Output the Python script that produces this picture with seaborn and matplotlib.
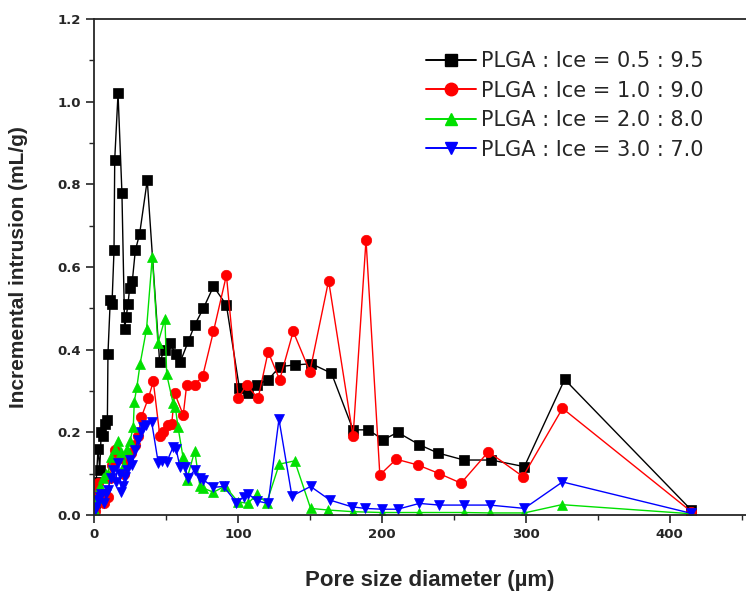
import numpy as np
import pandas as pd
import matplotlib
matplotlib.use("Agg")
import matplotlib.pyplot as plt
import seaborn as sns
from matplotlib.ticker import MultipleLocator
from matplotlib.lines import Line2D

# pore size (um) and incremental intrusion (mL/g)
x_05 = [0.5, 1.5, 2.8, 4, 5, 6.3, 7.5, 9.3, 9.7, 11.3, 12.5, 13.9, 14.4, 16.7, 19.4,
        21.3, 22.4, 23.6, 24.8, 26.6, 28.7, 31.7, 37, 45.6, 49, 52.5, 57, 60, 65.5,
        70, 76, 83, 92, 101, 107, 113, 121, 129, 139.6, 151, 165, 180, 190.5, 201,
        211, 226, 239, 257, 276, 299, 327, 415]
y_05 = [0.03, 0.08, 0.16, 0.11, 0.2, 0.19, 0.22, 0.23, 0.39, 0.52, 0.51, 0.64, 0.86, 1.02, 0.78,
        0.45, 0.48, 0.51, 0.55, 0.565, 0.64, 0.68, 0.81, 0.37, 0.4, 0.415, 0.39, 0.371, 0.42,
        0.46, 0.50, 0.553, 0.508, 0.307, 0.295, 0.315, 0.327, 0.359, 0.363, 0.366, 0.343, 0.206, 0.206, 0.182,
        0.20, 0.17, 0.15, 0.133, 0.133, 0.117, 0.328, 0.012]

x_10 = [0.5, 1.5, 2, 3, 5, 7, 9.7, 11, 12.5, 14.3, 16, 19, 21, 23.6, 26, 28.5, 30.6,
        33, 37.7, 41.2, 45.8, 48, 51.6, 54, 56, 62, 64.4, 70, 75.5, 83, 92, 100.2,
        106, 114, 121, 129, 138.4, 150, 163, 180, 189, 198.6, 210, 225, 240, 255,
        274, 298, 325.5, 415]
y_10 = [0.01, 0.03, 0.06, 0.077, 0.05, 0.03, 0.044, 0.09, 0.12, 0.157, 0.15, 0.137, 0.1, 0.125, 0.15, 0.17, 0.19,
        0.238, 0.282, 0.323, 0.19, 0.20, 0.218, 0.22, 0.295, 0.242, 0.315, 0.315, 0.336, 0.444, 0.58, 0.282,
        0.315, 0.282, 0.395, 0.327, 0.444, 0.347, 0.567, 0.19, 0.666, 0.097, 0.135, 0.121, 0.10, 0.077,
        0.153, 0.093, 0.258, 0.008]

x_20 = [0.5, 2, 4, 6, 8, 9.7, 12, 14.5, 16.8, 19, 21, 23, 25, 27.3, 28, 29.8, 32, 36.5,
        40.5, 44.4, 49.3, 50.5, 55, 56.5, 58.3, 61.8, 64.4, 70, 73.6, 76, 83, 91, 100,
        107, 113, 120, 128.7, 139.4, 150.5, 162.7, 180, 200, 226, 257, 275, 299, 325, 415]
y_20 = [0.01, 0.04, 0.07, 0.09, 0.1, 0.1, 0.14, 0.16, 0.18, 0.153, 0.12, 0.16, 0.178, 0.214, 0.274, 0.31, 0.365, 0.45,
        0.625, 0.415, 0.475, 0.34, 0.27, 0.262, 0.214, 0.141, 0.085, 0.155, 0.069, 0.065, 0.055, 0.07, 0.032,
        0.028, 0.05, 0.03, 0.123, 0.131, 0.016, 0.012, 0.008, 0.006, 0.006, 0.006, 0.005, 0.005, 0.025, 0.003]

x_30 = [0.5, 1.5, 2.8, 4, 5, 7, 8.5, 9.7, 11.5, 13.2, 15, 16.7, 18, 19, 20, 21.3, 23, 24.8,
        26.5, 28.3, 30.6, 32.9, 34.3, 36.3, 40, 44.7, 47, 50.5, 55, 57, 59.7, 63, 65.5,
        70, 73.6, 76, 83, 90, 99, 104, 107, 113, 121, 128.5, 137.5, 150.5, 164, 179,
        188, 200, 211, 226, 240, 257, 275, 299, 325.5, 415]
y_30 = [0.012, 0.02, 0.036, 0.044, 0.052, 0.03, 0.05, 0.06, 0.09, 0.109, 0.08, 0.125, 0.1, 0.056, 0.07, 0.093, 0.11, 0.133,
        0.12, 0.157, 0.182, 0.20, 0.214, 0.218, 0.226, 0.125, 0.13, 0.128, 0.165, 0.16, 0.117, 0.117, 0.09,
        0.109, 0.089, 0.085, 0.067, 0.069, 0.03, 0.044, 0.052, 0.034, 0.028, 0.232, 0.046, 0.069, 0.036, 0.02,
        0.016, 0.014, 0.014, 0.028, 0.024, 0.024, 0.024, 0.016, 0.08, 0.004]

labels = ["PLGA : Ice = 0.5 : 9.5", "PLGA : Ice = 1.0 : 9.0",
          "PLGA : Ice = 2.0 : 8.0", "PLGA : Ice = 3.0 : 7.0"]
colors = ["#000000", "#ff0000", "#00e000", "#0000ff"]
markers = ["s", "o", "^", "v"]

series = [(x_05, y_05), (x_10, y_10), (x_20, y_20), (x_30, y_30)]

sns.set_style("ticks")
plt.rcParams["font.family"] = ["Liberation Sans", "DejaVu Sans"]

fig = plt.figure(figsize=(7.46, 5.95), dpi=100)
ax = fig.add_axes([94 / 746, 80 / 595, 652 / 746, 496 / 595])

handles = []
for (xs, ys), lab, c, m in zip(series, labels, colors, markers):
    df = pd.DataFrame({"x": xs, "y": ys})
    sns.lineplot(data=df, x="x", y="y", ax=ax, color=c, marker=m, markersize=7.5,
                 markeredgecolor=c, markeredgewidth=0.5, linewidth=1.0,
                 sort=False, estimator=None)
    handles.append(Line2D([], [], color=c, marker=m, markersize=9,
                          markeredgecolor=c, linewidth=1.4, label=lab))

ax.set_xlim(0, 453)
ax.set_ylim(0, 1.2)
ax.xaxis.set_major_locator(MultipleLocator(100))
ax.xaxis.set_minor_locator(MultipleLocator(50))
ax.yaxis.set_major_locator(MultipleLocator(0.2))
ax.yaxis.set_minor_locator(MultipleLocator(0.1))
ax.yaxis.set_major_formatter(matplotlib.ticker.FormatStrFormatter("%.1f"))
ax.tick_params(which="major", direction="out", length=6, width=1.2,
               labelsize=9.5)
ax.tick_params(which="minor", direction="out", length=3.5, width=1.0)
for lab in ax.get_xticklabels() + ax.get_yticklabels():
    lab.set_fontweight("bold")
    lab.set_family("DejaVu Sans")

for s in ["left", "bottom", "top"]:
    ax.spines[s].set_linewidth(1.3)
ax.spines["right"].set_visible(False)

ax.set_xlabel("Pore size diameter (\u00b5m)", fontsize=16, fontweight="bold")
ax.set_ylabel("Incremental intrusion (mL/g)", fontsize=15, fontweight="bold")
ax.xaxis.set_label_coords((430 - 94) / 652, -55 / 496)
ax.yaxis.set_label_coords(-66 / 652, 0.5)

ax.legend(handles=handles, loc="upper left", bbox_to_anchor=(416 / 746, 554 / 595),
          bbox_transform=fig.transFigure, frameon=False,
          prop={"family": "DejaVu Sans", "size": 15},
          handlelength=2.4, handletextpad=0.2, labelspacing=0.45, borderpad=0)

fig.savefig("out.png", dpi=100)
